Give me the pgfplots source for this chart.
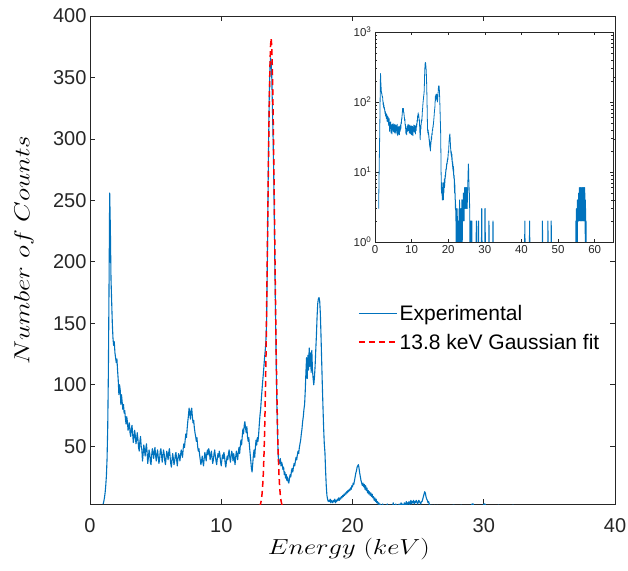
\documentclass[border=0pt]{standalone}
\usepackage{pgfplots}
\pgfplotsset{compat=1.18}
\usepackage{pgfplotstable}
\usepackage{graphicx}
\usepackage{fontspec}
\setmainfont{Liberation Sans}
\definecolor{mblue}{rgb}{0,0.447,0.741}
\definecolor{mred}{rgb}{1,0,0}
\definecolor{maxis}{rgb}{0.15,0.15,0.15}

\pgfplotstableread[row sep=\\]{E C\\
1.00 3\\1.05 5\\1.10 8\\1.15 12\\1.20 18\\1.25 26\\1.30 40\\1.35 65\\1.40 110\\1.45 180\\
1.50 256\\1.55 228\\1.60 186\\1.65 168\\1.70 150\\1.75 138\\1.80 132\\1.85 135\\1.90 126\\1.95 122\\
2.00 118\\2.05 121\\2.10 112\\2.15 104\\2.20 92\\2.25 100\\2.30 96\\2.35 84\\2.40 92\\2.45 86\\
2.50 80\\2.55 84\\2.60 77\\2.65 79\\2.70 72\\2.75 68\\2.80 74\\2.85 70\\2.90 63\\2.95 66\\
3.00 69\\3.05 61\\3.10 58\\3.15 64\\3.20 67\\3.25 60\\3.30 53\\3.35 57\\3.40 63\\3.45 59\\
3.50 52\\3.55 55\\3.60 61\\3.65 56\\3.70 49\\3.75 46\\3.80 54\\3.85 58\\3.90 50\\3.95 47\\
4.00 38\\4.05 44\\4.10 51\\4.15 47\\4.20 42\\4.25 48\\4.30 52\\4.35 45\\4.40 36\\4.45 41\\
4.50 47\\4.55 44\\4.60 37\\4.65 35\\4.70 43\\4.75 48\\4.80 45\\4.85 40\\4.90 46\\4.95 49\\
5.00 42\\5.05 38\\5.10 44\\5.15 47\\5.20 41\\5.25 36\\5.30 39\\5.35 46\\5.40 48\\5.45 43\\
5.50 37\\5.55 42\\5.60 47\\5.65 44\\5.70 38\\5.75 35\\5.80 41\\5.85 46\\5.90 43\\5.95 39\\
6.00 45\\6.05 48\\6.10 42\\6.15 36\\6.20 33\\6.25 39\\6.30 44\\6.35 40\\6.40 35\\6.45 38\\
6.50 43\\6.55 45\\6.60 39\\6.65 34\\6.70 40\\6.75 44\\6.80 42\\6.85 38\\6.90 43\\6.95 47\\
7.00 44\\7.05 41\\7.10 48\\7.15 52\\7.20 49\\7.25 55\\7.30 60\\7.35 57\\7.40 64\\7.45 70\\
7.50 75\\7.55 81\\7.60 77\\7.65 72\\7.70 79\\7.75 81\\7.80 74\\7.85 69\\7.90 71\\7.95 65\\
8.00 61\\8.05 58\\8.10 54\\8.15 57\\8.20 50\\8.25 46\\8.30 48\\8.35 43\\8.40 39\\8.45 35\\
8.50 38\\8.55 42\\8.60 37\\8.65 34\\8.70 40\\8.75 45\\8.80 42\\8.85 38\\8.90 44\\8.95 47\\
9.00 43\\9.05 48\\9.10 45\\9.15 39\\9.20 42\\9.25 46\\9.30 41\\9.35 36\\9.40 39\\9.45 44\\
9.50 47\\9.55 42\\9.60 38\\9.65 35\\9.70 40\\9.75 44\\9.80 41\\9.85 46\\9.90 43\\9.95 37\\
10.00 34\\10.05 39\\10.10 43\\10.15 40\\10.20 45\\10.25 42\\10.30 36\\10.35 33\\10.40 38\\10.45 42\\
10.50 39\\10.55 44\\10.60 47\\10.65 41\\10.70 37\\10.75 42\\10.80 46\\10.85 43\\10.90 38\\10.95 44\\
11.00 40\\11.05 35\\11.10 41\\11.15 46\\11.20 43\\11.25 39\\11.30 45\\11.35 49\\11.40 44\\11.45 50\\
11.50 55\\11.55 51\\11.60 58\\11.65 64\\11.70 60\\11.75 67\\11.80 70\\11.85 65\\11.90 61\\11.95 66\\
12.00 58\\12.05 54\\12.10 57\\12.15 50\\12.20 44\\12.25 38\\12.30 32\\12.35 29\\12.40 36\\12.45 43\\
12.50 47\\12.55 41\\12.60 49\\12.65 55\\12.70 51\\12.75 57\\12.80 54\\12.85 60\\12.90 68\\12.95 75\\
13.00 80\\13.05 88\\13.10 95\\13.15 102\\13.20 108\\13.25 115\\13.30 122\\13.35 128\\13.40 135\\13.45 150\\
13.50 190\\13.55 240\\13.60 290\\13.65 330\\13.70 355\\13.75 366\\13.80 364\\13.85 350\\13.90 325\\13.95 300\\
14.00 270\\14.05 228\\14.10 185\\14.15 145\\14.20 108\\14.25 78\\14.30 55\\14.35 40\\14.40 38\\14.45 36\\
14.50 40\\14.55 34\\14.60 37\\14.65 35\\14.70 31\\14.75 33\\14.80 27\\14.85 29\\14.90 24\\14.95 27\\
15.00 22\\15.05 25\\15.10 21\\15.15 20\\15.20 24\\15.25 27\\15.30 25\\15.35 30\\15.40 32\\15.45 29\\
15.50 33\\15.55 36\\15.60 34\\15.65 38\\15.70 41\\15.75 39\\15.80 43\\15.85 46\\15.90 44\\15.95 49\\
16.00 52\\16.05 55\\16.10 60\\16.15 64\\16.20 70\\16.25 74\\16.30 80\\16.35 84\\16.40 95\\16.45 110\\
16.50 122\\16.55 105\\16.60 124\\16.65 112\\16.70 130\\16.75 115\\16.80 126\\16.85 110\\16.90 128\\16.95 112\\
17.00 105\\17.05 100\\17.10 106\\17.15 115\\17.20 128\\17.25 140\\17.30 155\\17.35 166\\17.40 170\\17.45 171\\
17.50 168\\17.55 158\\17.60 140\\17.65 120\\17.70 100\\17.75 82\\17.80 65\\17.85 52\\17.90 45\\17.95 30\\
18.00 18\\18.05 10\\18.10 7\\18.15 5\\18.20 6\\18.25 5\\18.30 7\\18.35 4\\18.40 6\\18.45 5\\
18.50 4\\18.55 6\\18.60 5\\18.65 7\\18.70 4\\18.75 6\\18.80 5\\18.85 7\\18.90 6\\18.95 8\\
19.00 6\\19.05 8\\19.10 7\\19.15 9\\19.20 8\\19.25 10\\19.30 9\\19.35 11\\19.40 10\\19.45 12\\
19.50 11\\19.55 13\\19.60 12\\19.65 14\\19.70 13\\19.75 15\\19.80 14\\19.85 16\\19.90 15\\19.95 18\\
20.00 17\\20.05 20\\20.10 19\\20.15 22\\20.20 25\\20.25 28\\20.30 30\\20.35 33\\20.40 34\\20.45 35\\
20.50 32\\20.55 28\\20.60 25\\20.65 22\\20.70 20\\20.75 18\\20.80 20\\20.85 17\\20.90 19\\20.95 15\\
21.00 18\\21.05 14\\21.10 16\\21.15 12\\21.20 14\\21.25 11\\21.30 13\\21.35 10\\21.40 12\\21.45 9\\
21.50 11\\21.55 8\\21.60 9\\21.65 6\\21.70 8\\21.75 5\\21.80 7\\21.85 4\\21.90 5\\21.95 3\\
22.00 4\\22.05 2\\22.10 3\\22.15 1\\22.20 2\\22.25 1\\22.30 3\\22.35 1\\22.40 2\\22.45 0\\
22.50 1\\22.55 2\\22.60 1\\22.65 3\\22.70 1\\22.75 0\\22.80 2\\22.85 1\\22.90 2\\22.95 1\\
23.00 2\\23.05 1\\23.10 4\\23.15 1\\23.20 2\\23.25 1\\23.30 3\\23.35 2\\23.40 1\\23.45 2\\
23.50 1\\23.55 3\\23.60 1\\23.65 2\\23.70 4\\23.75 2\\23.80 3\\23.85 1\\23.90 2\\23.95 4\\
24.00 2\\24.05 3\\24.10 5\\24.15 2\\24.20 4\\24.25 3\\24.30 5\\24.35 2\\24.40 4\\24.45 6\\
24.50 3\\24.55 5\\24.60 4\\24.65 6\\24.70 3\\24.75 5\\24.80 4\\24.85 6\\24.90 5\\24.95 3\\
25.00 4\\25.05 6\\25.10 5\\25.15 4\\25.20 3\\25.25 5\\25.30 5\\25.35 7\\25.40 9\\25.45 11\\
25.50 13\\25.55 12\\25.60 9\\25.65 7\\25.70 6\\25.75 4\\25.80 5\\25.85 3\\25.90 1\\25.95 2\\
26.00 1\\26.05 2\\26.10 1\\26.15 0\\26.20 1\\26.25 2\\26.30 1\\26.35 0\\26.40 1\\26.45 2\\
26.50 1\\26.55 0\\
27.55 0\\27.60 1\\27.65 2\\27.70 2\\27.75 2\\27.80 1\\27.85 0\\
28.15 0\\28.20 1\\28.25 2\\28.30 2\\28.35 1\\28.40 0\\
29.00 0\\29.05 1\\29.10 3\\29.15 3\\29.20 3\\29.25 1\\29.30 0\\
29.90 0\\29.95 1\\30.00 3\\30.05 3\\30.10 3\\30.15 1\\30.20 0\\
31.00 0\\31.05 1\\31.10 2\\31.15 2\\31.20 1\\31.25 0\\
32.10 0\\32.15 1\\32.20 2\\32.25 2\\32.30 1\\32.35 0\\
40.80 0\\40.85 1\\40.90 2\\40.95 2\\41.00 1\\41.05 0\\
42.10 0\\42.15 1\\42.20 2\\42.25 2\\42.30 1\\42.35 0\\
45.60 0\\45.65 1\\45.70 2\\45.75 2\\45.80 1\\45.85 0\\
47.10 0\\47.15 1\\47.20 2\\47.25 2\\47.30 1\\47.35 0\\
48.00 0\\48.05 1\\48.10 2\\48.15 2\\48.20 1\\48.25 0\\
54.75 0\\54.80 1\\54.85 2\\54.90 1\\54.95 2\\55.00 3\\55.05 1\\55.10 2\\55.15 3\\55.20 2\\55.25 4\\
55.30 1\\55.35 3\\55.40 2\\55.45 4\\55.50 2\\55.55 3\\55.60 5\\55.65 2\\55.70 4\\55.75 3\\
55.80 6\\55.85 3\\55.90 5\\55.95 2\\56.00 4\\56.05 6\\56.10 3\\56.15 5\\56.20 2\\56.25 6\\
56.30 4\\56.35 3\\56.40 5\\56.45 2\\56.50 6\\56.55 3\\56.60 4\\56.65 6\\56.70 2\\56.75 5\\
56.80 3\\56.85 6\\56.90 4\\56.95 2\\57.00 5\\57.05 6\\57.10 3\\57.15 4\\57.20 2\\57.25 6\\
57.30 3\\57.35 5\\57.40 1\\57.45 4\\57.50 2\\57.55 3\\57.60 1\\57.65 2\\57.70 1\\57.75 0\\
60.00 0\\
}\expdata

\pgfplotstableread[row sep=\\]{E C\\
12.90 0.95\\12.95 1.83\\13.00 3.36\\13.05 5.96\\13.10 10.2\\13.15 16.8\\13.20 26.6\\13.25 40.8\\
13.30 60.1\\13.35 85.4\\13.40 117.0\\13.45 154.4\\13.50 196.3\\13.55 240.6\\13.60 284.1\\13.65 323.4\\
13.70 354.8\\13.75 375.0\\13.80 382\\13.85 375.0\\13.90 354.8\\13.95 323.4\\14.00 284.1\\14.05 240.6\\
14.10 196.3\\14.15 154.4\\14.20 117.0\\14.25 85.4\\14.30 60.1\\14.35 40.8\\14.40 26.6\\14.45 16.8\\
14.50 10.2\\14.55 5.96\\14.60 3.36\\14.65 1.83\\14.70 0.95\\
}\gaussdata

\begin{document}
\begin{tikzpicture}[x=1pt,y=1pt]
\path[use as bounding box] (0,0) rectangle (628,570);
\begin{axis}[
  scale only axis, width=525pt, height=488pt,
  at={(90pt,66pt)}, anchor=south west,
  xmin=0, xmax=40, ymin=3, ymax=400,
  xtick={0,10,20,30,40}, ytick={50,100,150,200,250,300,350,400},
  tick align=inside, major tick length=5pt,
  axis line style={maxis, line width=0.8pt},
  every tick/.style={maxis, line width=0.8pt},
  ticklabel style={font=\fontsize{20}{24}\selectfont, text=maxis},
  /pgf/number format/assume math mode=true,
  scaled ticks=false,
  xticklabel style={yshift=-11pt},
  xlabel={\scalebox{1.28}[1.05]{$Energy\ (keV)$}},
  ylabel={\scalebox{1.3}[1.05]{$Number\ of\ Counts$}},
  label style={font=\fontsize{22}{26}\selectfont},
  xlabel style={at={(axis description cs:0.493,-0.092)}, anchor=center},
  ylabel style={at={(axis description cs:-0.126,0.52)}, anchor=center},
  legend style={draw=none, fill=none, at={(axis description cs:0.5105,0.412)}, anchor=north west,
    font=\fontsize{21}{25}\selectfont, row sep=8pt, inner sep=0pt},
  legend cell align=left,
  legend image code/.code={\draw[#1] (0pt,0pt) -- (38pt,0pt);},
]
\addplot[color=mblue, line width=1.1pt, line join=round] table[x=E,y=C]{\expdata};
\addlegendentry{Experimental}
\addplot[color=mred, line width=1.5pt, dash pattern=on 6pt off 4pt] table[x=E,y=C]{\gaussdata};
\addlegendentry{13.8 keV Gaussian fit}
\end{axis}
\begin{axis}[
  scale only axis, width=238pt, height=210pt,
  at={(375pt,328pt)}, anchor=south west,
  ymode=log, xmin=0, xmax=65, ymin=1, ymax=1000,
  xtick={0,10,20,30,40,50,60}, ytick={1,10,100,1000},
  yticklabels={10\textsuperscript{0},10\textsuperscript{1},10\textsuperscript{2},10\textsuperscript{3}},
  tick align=inside, major tick length=3.5pt, minor tick length=2pt,
  axis background/.style={fill=white},
  axis line style={maxis, line width=0.6pt},
  every tick/.style={maxis, line width=0.5pt},
  ticklabel style={font=\fontsize{11.5}{13}\selectfont, text=maxis},
  /pgf/number format/assume math mode=true,
  unbounded coords=jump,
  filter discard warning=false,
]
\addplot[color=mblue, line width=0.8pt, line join=round] table[x=E,y=C]{\expdata};
\end{axis}
\end{tikzpicture}
\end{document}
